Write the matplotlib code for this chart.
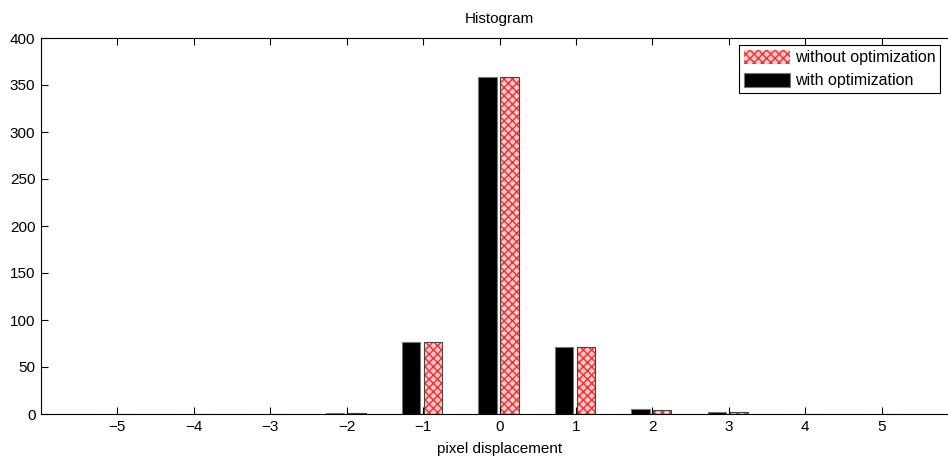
import matplotlib
matplotlib.use('Agg')
import matplotlib.pyplot as plt
import numpy as np

plt.rcParams['font.family'] = ['Liberation Sans', 'DejaVu Sans']
plt.rcParams['font.size'] = 11
plt.rcParams['hatch.linewidth'] = 1.0

displacement = [-5, -4, -3, -2, -1, 0, 1, 2, 3, 4, 5]
with_opt = [0, 0, 0, 1, 77, 358, 71, 5, 2, 0, 0]
without_opt = [0, 0, 0, 1, 77, 359, 71, 4, 2, 0, 0]

fig = plt.figure(figsize=(9.48, 4.57), dpi=100)
ax = fig.add_axes([41/948, 43/457, 917/948, 376/457])

x = np.array(displacement)
w = 0.24
ax.bar(x - 0.155, with_opt, w, color='black', edgecolor='#777777', linewidth=0.8,
       label='with optimization')
ax.bar(x + 0.13, without_opt, w, color='#ffc8c8', edgecolor='#f03030', hatch='xxxx',
       linewidth=0, label='without optimization')
ax.bar(x + 0.13, without_opt, w, fill=False, edgecolor='#444444', linewidth=0.8)

ax.set_xlim(-6, 6)
ax.set_ylim(0, 400)
ax.set_xticks(displacement)
ax.set_yticks(range(0, 401, 50))
ax.tick_params(direction='in', top=True, right=True, length=5, width=0.8, pad=4)
ax.set_xlabel('pixel displacement', labelpad=6)
ax.set_title('Histogram', fontsize=11, pad=11)

h, l = ax.get_legend_handles_labels()
leg = fig.legend(h[::-1], l[::-1], loc='upper left', bbox_to_anchor=(739/948, 1 - 45/457),
                 frameon=True, fancybox=False, edgecolor='black', framealpha=1,
                 handlelength=2.9, handleheight=1.0, handletextpad=0.3,
                 borderpad=0.3, labelspacing=0.45, borderaxespad=0, fontsize=11.5)
leg.get_frame().set_linewidth(0.8)

fig.savefig('out.png', dpi=100)
